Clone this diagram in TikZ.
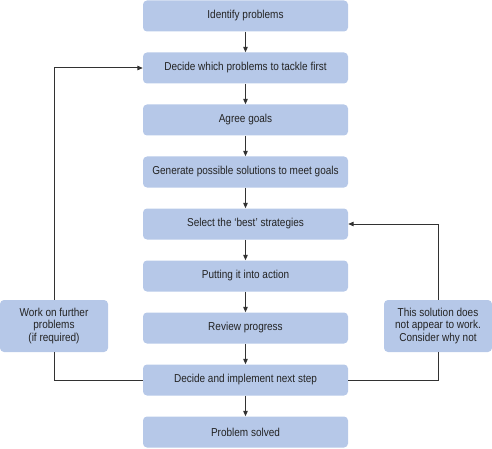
\documentclass[tikz,border=0pt]{standalone}
\usepackage{fontspec}
\setmainfont{Liberation Sans}[FakeStretch=0.87]
\usepackage{tikz}
\usetikzlibrary{positioning, calc, arrows.meta}
\definecolor{boxblue}{RGB}{182,200,232}
\definecolor{linegray}{RGB}{50,50,50}
\definecolor{textgray}{RGB}{35,35,35}

\begin{document}
\begin{tikzpicture}[x=1pt, y=-1pt,
    stage/.style={fill=boxblue, rounded corners=4pt, minimum width=205pt, minimum height=31pt,
                  inner sep=0pt, text=textgray, font=\fontsize{11.5}{12.9}\selectfont},
    aside/.style={stage, minimum width=108pt, minimum height=52pt, align=center},
    flow/.style={draw=linegray, line width=1pt, -{Triangle[length=5.5pt, width=4.5pt]}},
    back/.style={draw=linegray, line width=1pt}]
      \useasboundingbox (0,0) rectangle (492,449);
      % main column
      \node[stage] (identify) at (245.5,16) {Identify problems};
      \node[stage] (tackle)   at (245.5,68) {Decide which problems to tackle first};
      \node[stage] (goals)    at (245.5,120) {Agree goals};
      \node[stage] (generate) at (245.5,172) {Generate possible solutions to meet goals};
      \node[stage] (best)     at (245.5,224) {Select the `best' strategies};
      \node[stage] (action)   at (245.5,276) {Putting it into action};
      \node[stage] (review)   at (245.5,328) {Review progress};
      \node[stage] (nextstep) at (245.5,380) {Decide and implement next step};
      \node[stage] (solved)   at (245.5,432) {Problem solved};
      % side boxes
      \node[aside] (further) at (54,326) {Work on further\\problems\\(if required)};
      \node[aside] (whynot)  at (438,326) {This solution does\\not appear to work.\\Consider why not};
      % arrows down
      \draw[flow] (identify) -- (tackle);
      \draw[flow] (tackle) -- (goals);
      \draw[flow] (goals) -- (generate);
      \draw[flow] (generate) -- (best);
      \draw[flow] (best) -- (action);
      \draw[flow] (action) -- (review);
      \draw[flow] (review) -- (nextstep);
      \draw[flow] (nextstep) -- (solved);
      % loops
      \draw[back] (nextstep.west) -| (further.south);
      \draw[flow] (further.north) |- (tackle.west);
      \draw[back] (nextstep.east) -| (whynot.south);
      \draw[flow] (whynot.north) |- (best.east);
    \end{tikzpicture}
\end{document}
